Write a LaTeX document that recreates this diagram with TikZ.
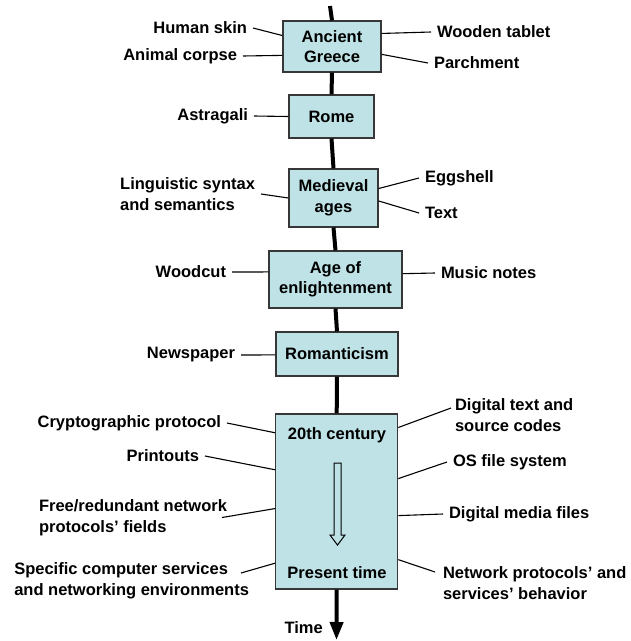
\documentclass[tikz,border=0pt]{standalone}
\usepackage{fontspec}
\setmainfont{Liberation Sans}
\usetikzlibrary{arrows.meta,calc}
\definecolor{eracyan}{RGB}{190,226,229}
\definecolor{eraborder}{RGB}{55,55,55}

\begin{document}
\begin{tikzpicture}[x=1pt,y=-1pt,
    every node/.style={font=\bfseries\fontsize{16.5}{20.5}\selectfont},
    era/.style={draw=eraborder,fill=eracyan,line width=1.2pt,align=center,inner sep=0pt},
    item/.style={inner sep=0pt,outer sep=6pt,align=left},
    link/.style={line width=1.1pt},
    axis/.style={line width=4pt}]
    \useasboundingbox (0,0) rectangle (631,641);

    % Periods
    \node[era,minimum width=98,minimum height=51] (greece) at (332,46.5) {Ancient\\Greece};
    \node[era,minimum width=85,minimum height=43] (rome) at (331.5,116.5) {Rome};
    \node[era,minimum width=89,minimum height=58] (medieval) at (333.5,198) {Medieval\\ages};
    \node[era,minimum width=133,minimum height=57] (enlight) at (335.5,279.5) {Age of\\enlightenment};
    \node[era,minimum width=122,minimum height=44] (romant) at (337,354) {Romanticism};
    \node[era,minimum width=122,minimum height=175] (modern) at (336.7,501.5) {};
    \node (century) at (337,435) {20th century};
    \node (present) at (337,573) {Present time};
    \draw[line width=1pt] (334,463) -- (341,463) -- (341,535) -- (345,535) -- (337.5,545)
        -- (330,535) -- (334,535) -- cycle;

    % Time axis
    \coordinate (start) at (330,6);
    \coordinate (finish) at (336.5,640);
    \node[anchor=east,inner sep=0pt] (time) at (323,628) {Time};
    \draw[axis] (start) -- (greece.north);
    \foreach \a/\b in {greece/rome, rome/medieval, medieval/enlight, enlight/romant, romant/modern} {
            \draw[axis] (\a.south) -- (\b.north);
        }
    \draw[axis,-{Triangle[width=13pt,length=18pt]}] (modern.south) -- (finish);

    % Media on the left
    \node[item,anchor=east] (skin) at (253,28) {Human skin};
    \node[item,anchor=east] (corpse) at (243,56) {Animal corpse};
    \node[item,anchor=east] (astragali) at (254,116) {Astragali};
    \node[item,anchor=east] (syntax) at (261,194) {Linguistic syntax\\and semantics};
    \node[item,anchor=east] (woodcut) at (232,272) {Woodcut};
    \node[item,anchor=east] (newspaper) at (241,355) {Newspaper};
    \node[item,anchor=east] (crypto) at (227,423) {Cryptographic protocol};
    \node[item,anchor=east] (printouts) at (205,456) {Printouts};
    \node[item,anchor=east] (free) at (233,517.5) {Free/redundant network\\protocols' fields};
    \node[item,anchor=east] (specific) at (255,581) {Specific computer services\\and networking environments};

    % Media on the right
    \node[item,anchor=west] (tablet) at (431,32) {Wooden tablet};
    \node[item,anchor=west] (parchment) at (428,63) {Parchment};
    \node[item,anchor=west] (eggshell) at (419,178) {Eggshell};
    \node[item,anchor=west] (text) at (419,213) {Text};
    \node[item,anchor=west] (music) at (435,273) {Music notes};
    \node[item,anchor=west] (dtext) at (449,415) {Digital text and\\source codes};
    \node[item,anchor=west] (osfs) at (447,462) {OS file system};
    \node[item,anchor=west] (media) at (443,514) {Digital media files};
    \node[item,anchor=west] (netproto) at (437,583) {Network protocols' and\\services' behavior};

    % Connect media to periods
    \foreach \lab/\period/\f/\dx/\dy in {skin/greece/0.29/0/0, corpse/greece/0.67/0/0,
            astragali/rome/0.5/0/0, syntax/medieval/0.5/0/0, woodcut/enlight/0.37/0/0,
            newspaper/romant/0.52/0/0, crypto/modern/0.11/0/0, printouts/modern/0.32/0/0,
            free/modern/0.54/-11/0, specific/modern/0.85/-14/-8} {
            \draw[link] ($(\lab.east)+(\dx,\dy)$) -- ($(\period.north west)!\f!(\period.south west)$);
        }
    \foreach \lab/\period/\f/\dx/\dy in {tablet/greece/0.25/0/0, parchment/greece/0.65/0/0,
            eggshell/medieval/0.34/0/0, text/medieval/0.55/0/0, music/enlight/0.4/0/0,
            dtext/modern/0.08/2/-7, osfs/modern/0.37/0/0, media/modern/0.58/0/0,
            netproto/modern/0.83/-2/-11} {
            \draw[link] ($(\lab.west)+(\dx,\dy)$) -- ($(\period.north east)!\f!(\period.south east)$);
        }
\end{tikzpicture}
\end{document}
